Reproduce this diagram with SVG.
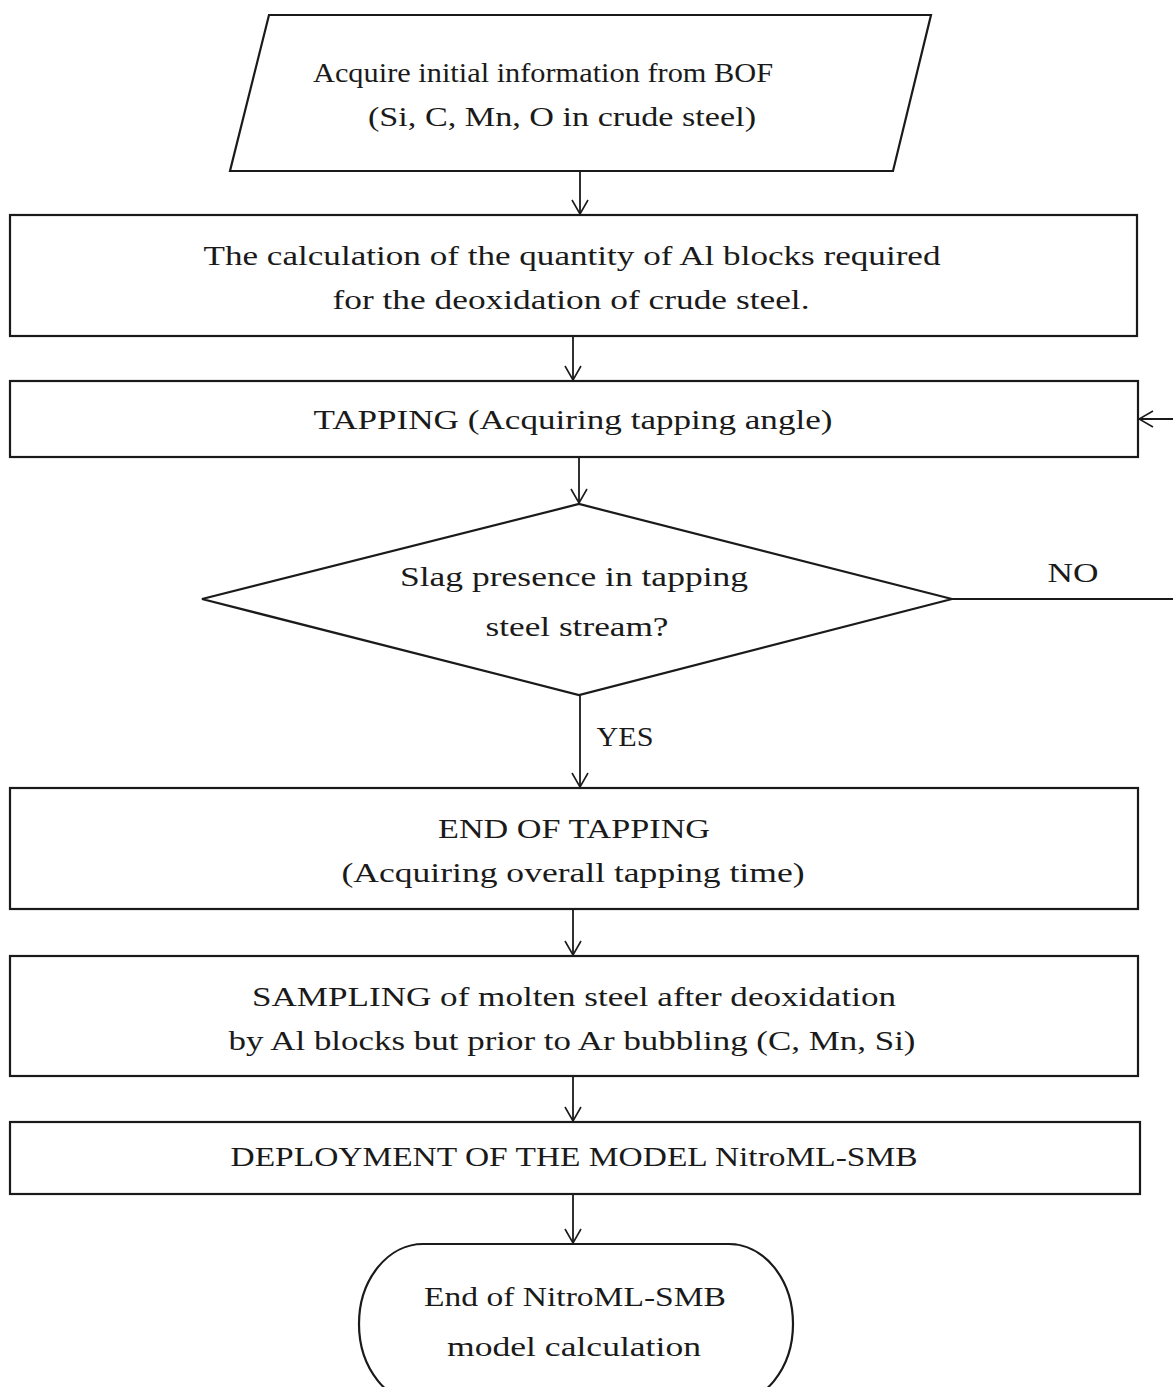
<svg xmlns="http://www.w3.org/2000/svg" width="1173" height="1387" viewBox="0 0 1173 1387">
<defs>
<marker id="arr" viewBox="0 0 16 18" refX="15" refY="9" markerWidth="16" markerHeight="18" markerUnits="userSpaceOnUse" orient="auto">
<path d="M1,1 L15,9 L1,17" fill="none" stroke="#1a1a1a" stroke-width="1.6"/>
</marker>
<style>
.s{fill:#fff;stroke:#1a1a1a;stroke-width:2.2}
.c{fill:none;stroke:#1a1a1a;stroke-width:1.8}
text{font-family:"Liberation Serif","Times New Roman",serif;font-size:28px;fill:#1a1a1a;text-anchor:middle}
</style>
</defs>
<rect width="1173" height="1387" fill="#fff"/>
<g id="connectors">
<path class="c" d="M580,171 V214" marker-end="url(#arr)"/>
<path class="c" d="M573,336 V380" marker-end="url(#arr)"/>
<path class="c" d="M579,457 V503" marker-end="url(#arr)"/>
<path class="c" d="M580,695 V787" marker-end="url(#arr)"/>
<path class="c" d="M573,909 V955" marker-end="url(#arr)"/>
<path class="c" d="M573,1076 V1121" marker-end="url(#arr)"/>
<path class="c" d="M573,1194 V1243" marker-end="url(#arr)"/>
<path class="c" d="M952,599 H1185 V419 H1139" marker-end="url(#arr)"/>
<text x="1073" y="582" textLength="51" lengthAdjust="spacingAndGlyphs">NO</text>
<text x="625" y="746" textLength="57" lengthAdjust="spacingAndGlyphs">YES</text>
</g>
<g id="n1">
<polygon class="s" points="269,15 931,15 893,171 230,171"/>
<text x="543" y="82" textLength="460" lengthAdjust="spacingAndGlyphs">Acquire initial information from BOF</text>
<text x="562" y="126" textLength="388" lengthAdjust="spacingAndGlyphs">(Si, C, Mn, O in crude steel)</text>
</g>
<g id="n2">
<rect class="s" x="10" y="215" width="1127" height="121"/>
<text x="572" y="265" textLength="737" lengthAdjust="spacingAndGlyphs">The calculation of the quantity of Al blocks required</text>
<text x="571" y="309" textLength="477" lengthAdjust="spacingAndGlyphs">for the deoxidation of crude steel.</text>
</g>
<g id="n3">
<rect class="s" x="10" y="381" width="1128" height="76"/>
<text x="573" y="429" textLength="519" lengthAdjust="spacingAndGlyphs">TAPPING (Acquiring tapping angle)</text>
</g>
<g id="n4">
<polygon class="s" points="202,599 579,504 952,599 579,695"/>
<text x="574" y="586" textLength="348" lengthAdjust="spacingAndGlyphs">Slag presence in tapping</text>
<text x="577" y="636" textLength="183" lengthAdjust="spacingAndGlyphs">steel stream?</text>
</g>
<g id="n5">
<rect class="s" x="10" y="788" width="1128" height="121"/>
<text x="574" y="838" textLength="272" lengthAdjust="spacingAndGlyphs">END OF TAPPING</text>
<text x="573" y="882" textLength="463" lengthAdjust="spacingAndGlyphs">(Acquiring overall tapping time)</text>
</g>
<g id="n6">
<rect class="s" x="10" y="956" width="1128" height="120"/>
<text x="574" y="1006" textLength="644" lengthAdjust="spacingAndGlyphs">SAMPLING of molten steel after deoxidation</text>
<text x="572" y="1050" textLength="687" lengthAdjust="spacingAndGlyphs">by Al blocks but prior to Ar bubbling (C, Mn, Si)</text>
</g>
<g id="n7">
<rect class="s" x="10" y="1122" width="1130" height="72"/>
<text x="574" y="1166" textLength="687" lengthAdjust="spacingAndGlyphs">DEPLOYMENT OF THE MODEL NitroML-SMB</text>
</g>
<g id="n8">
<rect class="s" x="359" y="1244" width="434" height="160" rx="64" ry="80"/>
<text x="575" y="1306" textLength="302" lengthAdjust="spacingAndGlyphs">End of NitroML-SMB</text>
<text x="574" y="1356" textLength="254" lengthAdjust="spacingAndGlyphs">model calculation</text>
</g>
</svg>
